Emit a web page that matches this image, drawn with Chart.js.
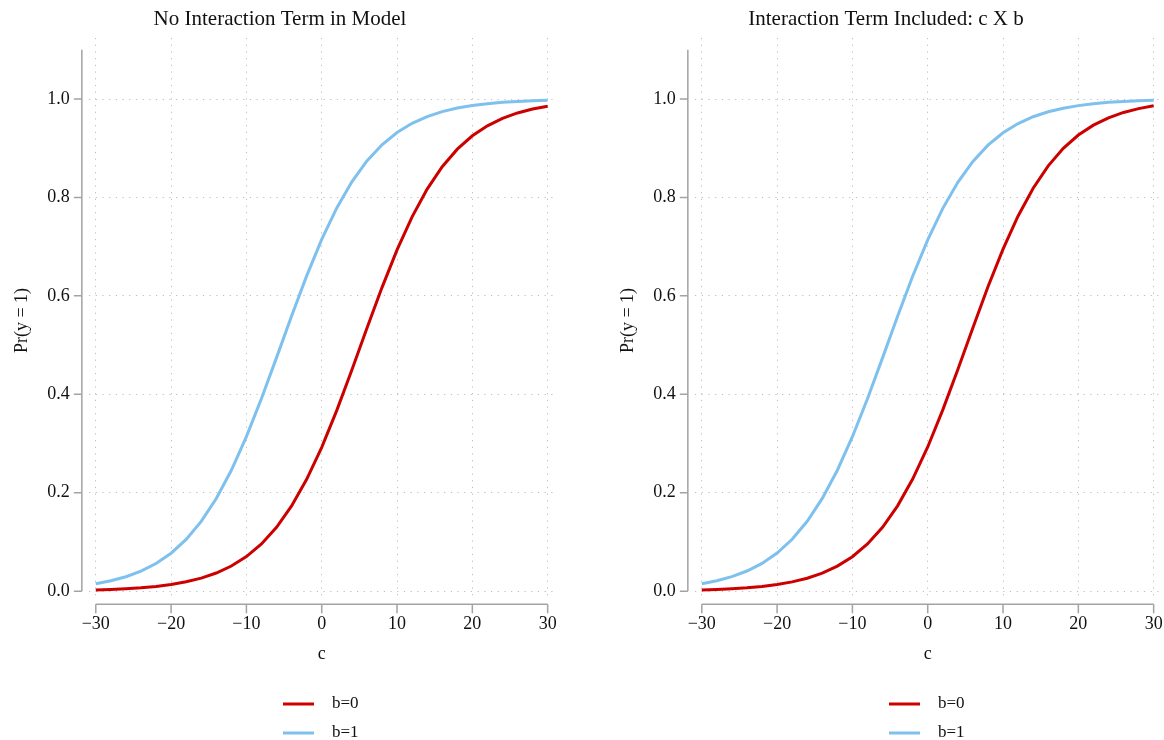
<!DOCTYPE html>
<html>
<head>
<meta charset="utf-8">
<title>Pr(y = 1) by c</title>
<script src="https://cdn.jsdelivr.net/npm/chart.js@4/dist/chart.umd.min.js"></script>
<style>
  html, body { margin: 0; padding: 0; background: #fff; }
  .panel { position: absolute; top: 0; width: 558px; height: 740px; }
  #panel-left  { left: 0; }
  #panel-right { left: 606px; }
</style>
</head>
<body>
<div class="panel" id="panel-left"><canvas id="chart-noint"></canvas></div>
<div class="panel" id="panel-right"><canvas id="chart-int"></canvas></div>

<script>
// ── Data ────────────────────────────────────────────────────────
const C_VALUES = [-30, -28, -26, -24, -22, -20, -18, -16, -14, -12, -10, -8, -6, -4, -2,
                  0, 2, 4, 6, 8, 10, 12, 14, 16, 18, 20, 22, 24, 26, 28, 30];

const X_TICKS = [-30, -20, -10, 0, 10, 20, 30];
const X_TICK_LABELS = ['\u221230', '\u221220', '\u221210', '0', '10', '20', '30'];
const Y_TICKS = [0, 0.2, 0.4, 0.6, 0.8, 1.0];
const Y_TICK_LABELS = ['0.0', '0.2', '0.4', '0.6', '0.8', '1.0'];

const SERIES_LABELS = ['b=0', 'b=1'];

// no interaction term
const NOINT_B0 = [0.0025, 0.0035, 0.0049, 0.0069, 0.0096, 0.0136, 0.0190, 0.0265, 0.0368, 0.0510,
                  0.0702, 0.0959, 0.1297, 0.1731, 0.2272, 0.2923, 0.3673, 0.4492, 0.5340, 0.6168,
                  0.6934, 0.7606, 0.8170, 0.8625, 0.8981, 0.9253, 0.9456, 0.9607, 0.9717, 0.9797, 0.9855];
const NOINT_B1 = [0.0150, 0.0210, 0.0292, 0.0406, 0.0561, 0.0771, 0.1051, 0.1417, 0.1882, 0.2456,
                  0.3139, 0.3913, 0.4745, 0.5592, 0.6406, 0.7146, 0.7787, 0.8317, 0.8741, 0.9070,
                  0.9320, 0.9506, 0.9644, 0.9744, 0.9816, 0.9868, 0.9906, 0.9933, 0.9952, 0.9966, 0.9976];

// interaction term c X b
const INT_B0 = [0.0024, 0.0034, 0.0048, 0.0068, 0.0095, 0.0134, 0.0188, 0.0263, 0.0366, 0.0508,
                0.0700, 0.0958, 0.1297, 0.1733, 0.2277, 0.2930, 0.3683, 0.4504, 0.5354, 0.6184,
                0.6951, 0.7624, 0.8188, 0.8642, 0.8997, 0.9268, 0.9469, 0.9618, 0.9727, 0.9805, 0.9862];
const INT_B1 = [0.0152, 0.0212, 0.0295, 0.0409, 0.0564, 0.0774, 0.1054, 0.1420, 0.1884, 0.2457,
                0.3138, 0.3910, 0.4740, 0.5585, 0.6398, 0.7137, 0.7778, 0.8308, 0.8733, 0.9063,
                0.9314, 0.9501, 0.9640, 0.9741, 0.9814, 0.9866, 0.9904, 0.9932, 0.9951, 0.9965, 0.9975];

// ── Style ───────────────────────────────────────────────────────
const RED  = '#CD0000';
const BLUE = '#7EC0EE';
const GRID = '#bdbdbd';
const AXIS = '#a3a3a3';
const SERIF = "'Liberation Serif', 'DejaVu Serif', serif";

// R-style detached axes, panel title, axis titles and bottom legend
const rAxes = {
  id: 'rAxes',
  afterDraw(chart, args, opts) {
    const ctx = chart.ctx;
    const xs = chart.scales.x, ys = chart.scales.y;
    const axisX = xs.getPixelForValue(-31.85);
    const axisY = ys.getPixelForValue(0) + 13;

    ctx.save();
    ctx.strokeStyle = AXIS;
    ctx.lineWidth = 1.5;
    ctx.fillStyle = '#111';

    // y axis: line from 0 to 1.1, ticks pointing left
    ctx.beginPath();
    ctx.moveTo(axisX, ys.getPixelForValue(0));
    ctx.lineTo(axisX, ys.getPixelForValue(1.1));
    Y_TICKS.forEach(v => {
      const py = ys.getPixelForValue(v);
      ctx.moveTo(axisX, py);
      ctx.lineTo(axisX - 8, py);
    });
    // x axis: line from -30 to 30, ticks pointing down
    ctx.moveTo(xs.getPixelForValue(X_TICKS[0]), axisY);
    ctx.lineTo(xs.getPixelForValue(X_TICKS[X_TICKS.length - 1]), axisY);
    X_TICKS.forEach(v => {
      const px = xs.getPixelForValue(v);
      ctx.moveTo(px, axisY);
      ctx.lineTo(px, axisY + 9);
    });
    ctx.stroke();

    ctx.font = '18px ' + SERIF;
    ctx.textBaseline = 'middle';
    ctx.textAlign = 'right';
    Y_TICKS.forEach((v, i) => ctx.fillText(Y_TICK_LABELS[i], axisX - 12, ys.getPixelForValue(v)));
    ctx.textAlign = 'center';
    X_TICKS.forEach((v, i) => ctx.fillText(X_TICK_LABELS[i], xs.getPixelForValue(v), axisY + 20));

    // axis titles
    ctx.fillText('c', xs.getPixelForValue(0), axisY + 50);
    ctx.save();
    ctx.translate(22, (ys.getPixelForValue(0) + ys.getPixelForValue(1.1)) / 2);
    ctx.rotate(-Math.PI / 2);
    ctx.fillText('Pr(y = 1)', 0, 0);
    ctx.restore();

    // panel title
    ctx.font = '21px ' + SERIF;
    ctx.fillText(opts.title, 280, 19);

    // legend, stacked under the x axis
    ctx.font = '17px ' + SERIF;
    ctx.textAlign = 'left';
    chart.data.datasets.forEach((ds, i) => {
      const ly = 704 + i * 29;
      ctx.strokeStyle = ds.borderColor;
      ctx.lineWidth = 3;
      ctx.beginPath();
      ctx.moveTo(283, ly);
      ctx.lineTo(314, ly);
      ctx.stroke();
      ctx.fillText(ds.label, 332, ly);
    });
    ctx.restore();
  }
};

function makePanel(canvasId, title, b0, b1) {
  const el = document.getElementById(canvasId);
  if (!el) return;
  const series = [b0, b1];
  const colors = [RED, BLUE];
  new Chart(el, {
    type: 'line',
    data: {
      datasets: series.map((vals, k) => ({
        label: SERIES_LABELS[k],
        data: C_VALUES.map((c, i) => ({ x: c, y: vals[i] })),
        borderColor: colors[k],
        borderWidth: 3,
        pointRadius: 0,
        tension: 0,
        fill: false
      }))
    },
    options: {
      responsive: true,
      maintainAspectRatio: false,
      animation: false,
      events: [],
      layout: { padding: { left: 89, right: 1, top: 38, bottom: 140 } },
      plugins: {
        legend: { display: false },
        tooltip: { enabled: false },
        rAxes: { title: title }
      },
      scales: {
        x: {
          type: 'linear',
          min: -30.9,
          max: 31.24,
          afterBuildTicks: s => { s.ticks = X_TICKS.map(v => ({ value: v })); },
          afterFit: s => { s.height = 0; },
          ticks: { display: false },
          grid: { color: GRID, lineWidth: 1, drawTicks: false },
          border: { display: false, dash: [1.2, 5.5] }
        },
        y: {
          type: 'linear',
          min: -0.018,
          max: 1.124,
          afterBuildTicks: s => { s.ticks = Y_TICKS.map(v => ({ value: v })); },
          afterFit: s => { s.width = 0; },
          ticks: { display: false },
          grid: { color: GRID, lineWidth: 1, drawTicks: false },
          border: { display: false, dash: [1.2, 5.5] }
        }
      }
    },
    plugins: [rAxes]
  });
}

makePanel('chart-noint', 'No Interaction Term in Model', NOINT_B0, NOINT_B1);
makePanel('chart-int', 'Interaction Term Included: c X b', INT_B0, INT_B1);
</script>
</body>
</html>
